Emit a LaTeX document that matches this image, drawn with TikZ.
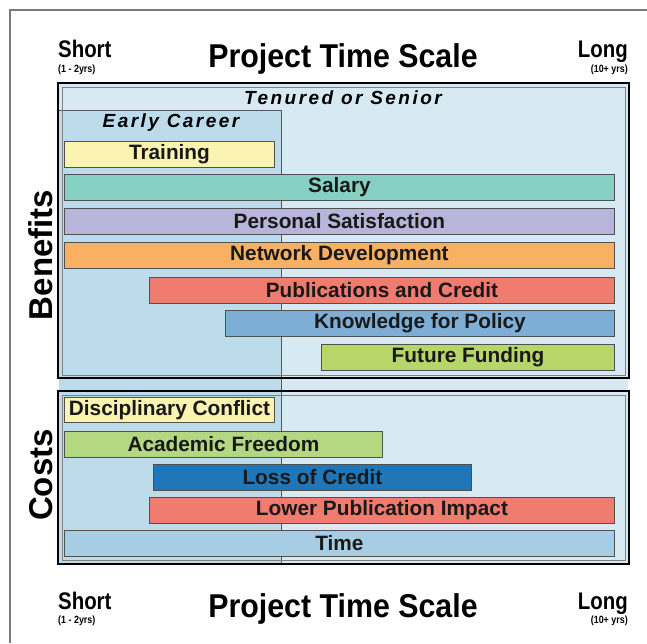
\documentclass[tikz,border=0pt]{standalone}
\usepackage{fontspec}
\setmainfont{Liberation Sans}
\definecolor{frameg}{HTML}{7A7A7A}
\definecolor{bglight}{HTML}{D7EAF4}
\definecolor{bgearly}{HTML}{BCDCEC}
\definecolor{cyellow}{HTML}{FAF3B2}
\definecolor{cteal}{HTML}{86D1C3}
\definecolor{clav}{HTML}{B9B4DA}
\definecolor{corange}{HTML}{F8B062}
\definecolor{csalmon}{HTML}{F07B6F}
\definecolor{cknow}{HTML}{7EAED5}
\definecolor{cfund}{HTML}{B6D66A}
\definecolor{cacad}{HTML}{B4D782}
\definecolor{closs}{HTML}{1F77B9}
\definecolor{ctime}{HTML}{A6CDE4}
\definecolor{outl}{HTML}{505050}
\tikzset{
  bar/.style={draw=outl, line width=0.9pt, inner sep=0pt, anchor=north west, minimum height=26pt,
    font=\fontsize{20.8}{22}\selectfont\bfseries, text=black!90},
  hshort/.style={inner sep=0pt, font=\fontsize{24}{26}\selectfont\bfseries},
  hsmall/.style={inner sep=0pt, font=\fontsize{10.5}{12}\selectfont\bfseries},
  htitle/.style={inner sep=0pt, font=\fontsize{33}{36}\selectfont\bfseries},
  side/.style={inner sep=0pt, rotate=90, font=\fontsize{33}{36}\selectfont\bfseries},
  band/.style={inner sep=0pt, font=\fontsize{19}{21}\selectfont\bfseries\itshape\addfontfeature{LetterSpace=13}},
}
\begin{document}
\begin{tikzpicture}[x=1pt,y=-1pt]
\useasboundingbox (0,0) rectangle (647,643);
\fill[white] (0,0) rectangle (647,643);
% outer partial frame
\draw[frameg, line width=1.6pt] (10,643) -- (10,10) -- (647,10);
% backgrounds
\fill[bglight] (59,84) rectangle (628,564);
\fill[bgearly] (59,110) rectangle (281,564);
\draw[gray!70!black, line width=0.6pt] (59,110) -- (281,110) -- (281,564);
\draw[gray, line width=0.6pt] (62,87) rectangle (625,375);
\draw[gray, line width=0.6pt] (62,395) rectangle (625,560);
% black boxes
\draw[black, line width=2pt] (58,83) rectangle (629,378);
\draw[black, line width=2pt] (58,391) rectangle (629,564);
% band titles
\node[band] (tenured) at (343,98) {Tenured or Senior};
\node[band] (early) at (171,123) {Early Career};
% benefit bars
\node[bar, fill=cyellow, minimum width=210pt] (training) at (64,141) {Training};
\node[bar, fill=cteal, minimum width=550pt] (salary) at (64,174) {Salary};
\node[bar, fill=clav, minimum width=550pt] (personal) at (64,208) {Personal Satisfaction};
\node[bar, fill=corange, minimum width=550pt] (network) at (64,242) {Network Development};
\node[bar, fill=csalmon, minimum width=465pt] (pubs) at (149,277) {Publications and Credit};
\node[bar, fill=cknow, minimum width=389pt] (knowledge) at (225,310) {Knowledge for Policy};
\node[bar, fill=cfund, minimum width=293pt] (funding) at (321,344) {Future Funding};
% cost bars
\node[bar, fill=cyellow, minimum width=210pt, minimum height=25pt] (conflict) at (64,397) {Disciplinary Conflict};
\node[bar, fill=cacad, minimum width=318pt] (freedom) at (64,431) {Academic Freedom};
\node[bar, fill=closs, minimum width=318pt] (loss) at (153,464) {Loss of Credit};
\node[bar, fill=csalmon, minimum width=465pt] (impact) at (149,497) {Lower Publication Impact};
\node[bar, fill=ctime, minimum width=550pt] (time) at (64,530) {Time};
% side labels
\node[side] (benefits) at (41,255) {Benefits};
\node[side] (costs) at (41,475) {Costs};
% top header
\node[hshort, anchor=base west] (shortT) at (58,57) {\scalebox{0.85}[1]{Short}};
\node[hsmall, anchor=base west] (shortTs) at (58,72) {\scalebox{0.85}[1]{(1 - 2yrs)}};
\node[htitle, anchor=base] (titleT) at (343,67) {\scalebox{0.92}[1]{Project Time Scale}};
\node[hshort, anchor=base east] (longT) at (628,57) {\scalebox{0.85}[1]{Long}};
\node[hsmall, anchor=base east] (longTs) at (628,72) {\scalebox{0.85}[1]{(10+ yrs)}};
% bottom header
\node[hshort, anchor=base west] (shortB) at (58,609) {\scalebox{0.85}[1]{Short}};
\node[hsmall, anchor=base west] (shortBs) at (58,623) {\scalebox{0.85}[1]{(1 - 2yrs)}};
\node[htitle, anchor=base] (titleB) at (343,617) {\scalebox{0.92}[1]{Project Time Scale}};
\node[hshort, anchor=base east] (longB) at (628,609) {\scalebox{0.85}[1]{Long}};
\node[hsmall, anchor=base east] (longBs) at (628,623) {\scalebox{0.85}[1]{(10+ yrs)}};
\end{tikzpicture}
\end{document}
